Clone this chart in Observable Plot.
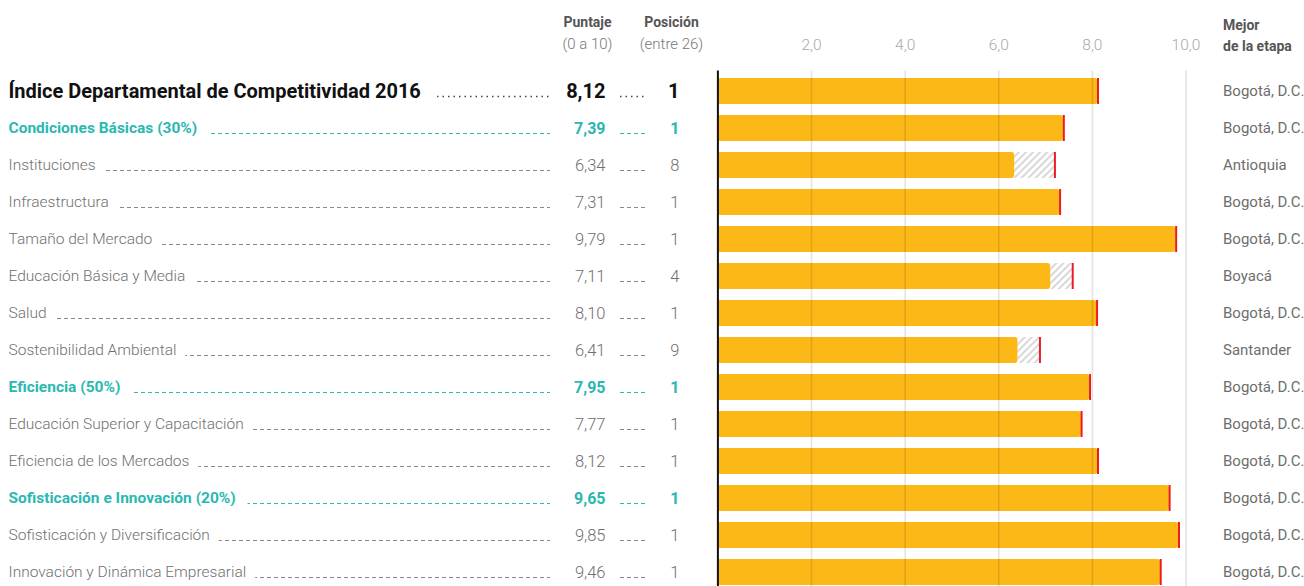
<!DOCTYPE html>
<html>
<head>
<meta charset="utf-8">
<script src="https://cdn.jsdelivr.net/npm/d3@7"></script>
<script src="https://cdn.jsdelivr.net/npm/@observablehq/plot@0.6"></script>
<style>
  html, body { margin: 0; padding: 0; background: #fff; overflow: hidden; }
  #wrap { display: flex; flex-direction: row; align-items: flex-start; width: 1304px; }
  #wrap svg { display: block; flex: none; max-width: none !important; }
</style>
</head>
<body>
<div id="wrap"></div>
<script>
// ---------- data ----------
const names = [
  "Índice Departamental de Competitividad 2016",
  "Condiciones Básicas (30%)",
  "Instituciones",
  "Infraestructura",
  "Tamaño del Mercado",
  "Educación Básica y Media",
  "Salud",
  "Sostenibilidad Ambiental",
  "Eficiencia (50%)",
  "Educación Superior y Capacitación",
  "Eficiencia de los Mercados",
  "Sofisticación e Innovación (20%)",
  "Sofisticación y Diversificación",
  "Innovación y Dinámica Empresarial"
];
const levels = ["total","group","item","item","item","item","item","item","group","item","item","group","item","item"];
const scores = [8.12, 7.39, 6.34, 7.31, 9.79, 7.11, 8.10, 6.41, 7.95, 7.77, 8.12, 9.65, 9.85, 9.46];
const positions = [1, 1, 8, 1, 1, 4, 1, 9, 1, 1, 1, 1, 1, 1];
const bestScores = [8.12, 7.39, 7.20, 7.31, 9.79, 7.58, 8.10, 6.88, 7.95, 7.77, 8.12, 9.65, 9.85, 9.46];
const bestNames = [
  "Bogotá, D.C.", "Bogotá, D.C.", "Antioquia", "Bogotá, D.C.", "Bogotá, D.C.", "Boyacá",
  "Bogotá, D.C.", "Santander", "Bogotá, D.C.", "Bogotá, D.C.", "Bogotá, D.C.", "Bogotá, D.C.",
  "Bogotá, D.C.", "Bogotá, D.C."
];
const xTicks = [2, 4, 6, 8, 10];

const rows = names.map((name, i) => ({
  name, level: levels[i], score: scores[i], pos: positions[i], best: bestScores[i], bestName: bestNames[i]
}));

// ---------- layout / style ----------
const H = 593, MT = 70.5, MB = 0;
const yScale = {domain: names, paddingInner: 0.29, paddingOuter: 0.145, axis: null};
const COL = {label: 8, leaderEnd: 550, score: 605, lead2a: 620, lead2b: 646, pos: 679, puntaje: 587, posicion: 671};
const comma = v => d3.format(".2f")(v).replace(".", ",");
const tickFmt = v => d3.format(".1f")(v).replace(".", ",");
const FONT = "Roboto, 'Liberation Sans', sans-serif";

const levelStyle = {
  total: {fontSize: 20, fontWeight: 700, fill: "#111", leader: "#444", dash: "1.5,4", lw: 1.5, halo: 34},
  group: {fontSize: 15.5, fontWeight: 700, fill: "#2bb8b1", leader: "#2bb8b1", dash: "4,3", lw: 1, halo: 26},
  item:  {fontSize: 15.5, fontWeight: 300, fill: "#707070", leader: "#8a8a8a", dash: "4,3", lw: 1, halo: 20}
};
const numSize = {total: 20, group: 16, item: 16.5};

// ---------- table (left) ----------
const tableMarks = [];
for (const L of ["total", "group", "item"]) {
  const s = levelStyle[L];
  const D = rows.filter(r => r.level === L);
  const txt = {fill: s.fill, fontSize: s.fontSize, fontWeight: s.fontWeight};
  const num = {...txt, fontSize: numSize[L]};
  tableMarks.push(
    Plot.ruleY(D, {y: "name", x1: COL.label, x2: COL.leaderEnd, dy: 5, stroke: s.leader, strokeWidth: s.lw, strokeDasharray: s.dash}),
    Plot.text(D, {y: "name", x: COL.label, text: "name", textAnchor: "start", ...txt,
                  stroke: "white", strokeWidth: s.halo, paintOrder: "stroke", strokeLinejoin: "round"}),
    Plot.text(D, {y: "name", x: COL.score, text: d => comma(d.score), textAnchor: "end", ...num}),
    Plot.ruleY(D, {y: "name", x1: COL.lead2a, x2: COL.lead2b, dy: 5, stroke: s.leader, strokeWidth: s.lw, strokeDasharray: s.dash}),
    Plot.text(D, {y: "name", x: COL.pos, text: d => String(d.pos), textAnchor: "end", ...num})
  );
}
const hdr = {frameAnchor: "top", lineAnchor: "middle", text: d => d};
tableMarks.push(
  Plot.text(["Puntaje"], {...hdr, x: COL.puntaje, dy: 22 - MT, fill: "#555", fontSize: 14, fontWeight: 700}),
  Plot.text(["(0 a 10)"], {...hdr, x: COL.puntaje, dy: 44 - MT, fill: "#777", fontSize: 15, fontWeight: 300}),
  Plot.text(["Posición"], {...hdr, x: COL.posicion, dy: 22 - MT, fill: "#555", fontSize: 14, fontWeight: 700}),
  Plot.text(["(entre 26)"], {...hdr, x: COL.posicion, dy: 44 - MT, fill: "#777", fontSize: 15, fontWeight: 300})
);

const table = Plot.plot({
  width: 710, height: H,
  marginTop: MT, marginBottom: MB, marginLeft: 0, marginRight: 0,
  x: {type: "identity", axis: null},
  y: yScale,
  style: {fontFamily: FONT, background: "white"},
  marks: tableMarks
});

// ---------- bars (right) ----------
const HATCH_KEY = "#abcdef";
const hatchDefs = () => {
  const defs = d3.create("svg:defs");
  const p = defs.append("pattern").attr("id", "hatch").attr("patternUnits", "userSpaceOnUse")
    .attr("width", 5).attr("height", 5).attr("patternTransform", "rotate(45)");
  p.append("rect").attr("width", 5).attr("height", 5).attr("fill", "#fff");
  p.append("line").attr("x1", 1).attr("y1", 0).attr("x2", 1).attr("y2", 5).attr("stroke", "#cfcfcf").attr("stroke-width", 1.6);
  return defs.node();
};

const bars = Plot.plot({
  width: 594, height: H,
  marginTop: MT, marginBottom: MB, marginLeft: 7.4, marginRight: 118.5,
  x: {domain: [0, 10], axis: null},
  y: yScale,
  style: {fontFamily: FONT, background: "white"},
  marks: [
    hatchDefs,
    Plot.barX(rows.filter(r => r.best > r.score), {x1: "score", x2: "best", y: "name", fill: HATCH_KEY}),
    Plot.barX(rows, {x1: 0, x2: "score", y: "name", fill: "#fbb817", rx: 3}),
    Plot.ruleX(xTicks, {stroke: "#000", strokeOpacity: 0.11, strokeWidth: 1.6}),
    Plot.ruleX([0], {stroke: "#111", strokeWidth: 2}),
    Plot.tickX(rows, {x: "best", y: "name", stroke: "#ec1c24", strokeWidth: 2}),
    Plot.text(xTicks, {...hdr, x: d => d, dy: 45 - MT, text: tickFmt, fill: "#a8a8a8", fontSize: 15.5, fontWeight: 300}),
    Plot.text(rows, {y: "name", text: "bestName", frameAnchor: "right", dx: 37, textAnchor: "start", fill: "#6e6e6e", fontSize: 15, fontWeight: 400}),
    Plot.text(["Mejor"], {frameAnchor: "top-right", lineAnchor: "middle", dx: 37, dy: 25 - MT, text: d => d, textAnchor: "start", fill: "#555", fontSize: 14, fontWeight: 700}),
    Plot.text(["de la etapa"], {frameAnchor: "top-right", lineAnchor: "middle", dx: 37, dy: 46 - MT, text: d => d, textAnchor: "start", fill: "#555", fontSize: 14, fontWeight: 700})
  ]
});
d3.select(bars).selectAll(`[fill="${HATCH_KEY}"]`).attr("fill", "url(#hatch)");

document.getElementById("wrap").append(table, bars);
</script>
</body>
</html>
